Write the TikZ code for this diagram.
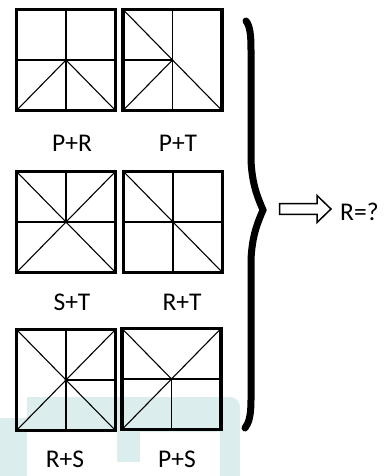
\documentclass[tikz,border=0pt]{standalone}
\usepackage{fontspec}
\setmainfont{Carlito}
\definecolor{wmteal}{HTML}{DCEDEE}
\begin{document}
\begin{tikzpicture}[
	x=1pt, y=-1pt,
	panel/.style={ draw, line width=3.3pt, inner sep=0pt, outer sep=0pt, minimum width=99pt, minimum height=101pt },
	seg/.style={ line width=1.1pt },
	lbl/.style={ anchor=base, inner sep=0pt, font=\fontsize{25.5}{30}\selectfont },
	wm/.style={ fill=wmteal }
]
\useasboundingbox (0,0) rectangle (391,476);

% watermark
\fill[wm] (0,418) rectangle (27,476);
\fill[wm] (27,432) -- (27,397) -- (230,397) arc[start angle=-90, end angle=0, radius=10] -- (240,476) -- (220,476) -- (220,432) -- cycle;
\fill[wm] (117,432) rectangle (140,462);

\node at (66,60) (pr) [panel] {};
\foreach \a in {north,south,west,east,south west,south east} \draw[seg] (pr.center) to (pr.\a);
\node at (72,151.5) (lpr) [lbl] {P+R};

\node at (172.5,60) (pt) [panel] {};
\foreach \a in {north,south,west,north west,south east,south west} \draw[seg] (pt.center) to (pt.\a);
\node at (178,151.5) (lpt) [lbl] {P+T};

\node at (66,222) (st) [panel] {};
\foreach \a in {north,west,east,north west,north east,south west,south east} \draw[seg] (st.center) to (st.\a);
\node at (72,310) (lst) [lbl] {S+T};

\node at (173,222) (rt) [panel] {};
\foreach \a in {north,south,west,east,north west,south east} \draw[seg] (rt.center) to (rt.\a);
\node at (182,310) (lrt) [lbl] {R+T};

\node at (66,380) (rs) [panel] {};
\foreach \a in {north,south,east,north west,north east,south west,south east} \draw[seg] (rs.center) to (rs.\a);
\node at (65,467) (lrs) [lbl] {R+S};

\node at (171.5,379) (ps) [panel] {};
\foreach \a in {south,west,east,north west,north east,south west} \draw[seg] (ps.center) to (ps.\a);
\node at (177,467) (lps) [lbl] {P+S};

% brace
\draw[line width=7pt, line cap=round] (246,21) .. controls (250,26) and (251,35) .. (251,50) -- (251,160)
	.. controls (252,185) and (258,198) .. (263,210) .. controls (258,222) and (252,235) .. (251,260)
	-- (251,400) .. controls (251,415) and (249,423) .. (245,428);

% arrow
\draw[line width=1.5pt, fill=white] (279.5,203.7) -- (317,203.7) -- (317,195.5) -- (331,209) -- (317,222.5) -- (317,214.3) -- (279.5,214.3) -- cycle;
\node at (340,220) (res) [lbl, anchor=base west] {R=?};

\end{tikzpicture}
\end{document}
